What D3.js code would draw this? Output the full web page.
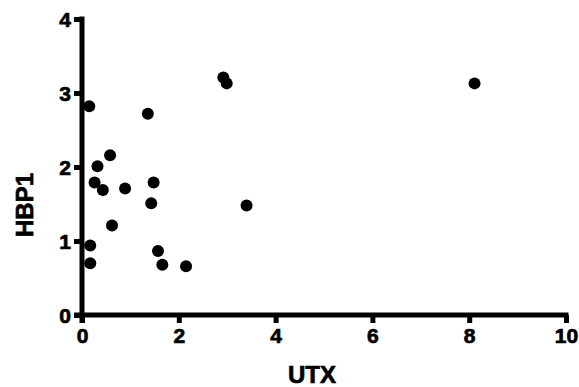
<!DOCTYPE html>
<html>
<head>
<meta charset="utf-8">
<script src="https://cdn.jsdelivr.net/npm/d3@7/dist/d3.min.js"></script>
<style>
  html, body { margin: 0; padding: 0; background: #fff; }
  svg { display: block; }
  text {
    font-family: "Liberation Sans", Arial, sans-serif; font-weight: bold;
    fill: #000; stroke: #000; stroke-width: 0.7px; paint-order: stroke;
  }
</style>
</head>
<body>
<svg id="chart" width="579" height="387"></svg>
<script>
// UTX vs HBP1 measurements
const utx  = [0.15, 1.36, 2.92, 2.99, 8.11, 0.58, 0.32, 0.26, 0.43, 0.89, 1.48, 1.43, 3.40, 0.62, 0.17, 0.17, 1.57, 1.66, 2.15];
const hbp1 = [2.82, 2.72, 3.21, 3.13, 3.13, 2.16, 2.01, 1.79, 1.69, 1.71, 1.79, 1.51, 1.48, 1.21, 0.94, 0.70, 0.865, 0.68, 0.66];
const xTicks = [0, 2, 4, 6, 8, 10];
const yTicks = [0, 1, 2, 3, 4];

const svg = d3.select("#chart");
const x = d3.scaleLinear().domain([0, 10]).range([82, 566]);
const y = d3.scaleLinear().domain([0, 4]).range([315, 19]);

const AXIS_W = 5;

function styleAxis(g) {
  g.attr("font-family", null).attr("font-size", null);
  g.select("path.domain").remove();
  g.selectAll(".tick line")
    .attr("stroke", "#000")
    .attr("stroke-width", AXIS_W);
  g.selectAll(".tick text")
    .attr("fill", "#000")
    .attr("font-size", 21);
}

// x axis
const gx = svg.append("g")
  .attr("transform", "translate(0," + y(0) + ")")
  .call(d3.axisBottom(x).tickValues(xTicks).tickFormat(d3.format("d"))
    .tickSize(8).tickPadding(5).tickSizeOuter(0))
  .call(styleAxis);
gx.append("line")
  .attr("x1", x(0) - 8).attr("x2", x(10) + AXIS_W / 2)
  .attr("stroke", "#000").attr("stroke-width", AXIS_W);

// y axis
const gy = svg.append("g")
  .attr("transform", "translate(" + x(0) + ",0)")
  .call(d3.axisLeft(y).tickValues(yTicks).tickFormat(d3.format("d"))
    .tickSize(8).tickPadding(3).tickSizeOuter(0))
  .call(styleAxis);
gy.selectAll(".tick text").attr("dy", "0.36em");
gy.append("line")
  .attr("y1", y(4) - AXIS_W / 2).attr("y2", y(0) + 8)
  .attr("stroke", "#000").attr("stroke-width", AXIS_W);

// points
svg.append("g").selectAll("circle")
  .data(utx.map((v, i) => [v, hbp1[i]]))
  .join("circle")
  .attr("cx", d => x(d[0]))
  .attr("cy", d => y(d[1]))
  .attr("r", 6)
  .attr("fill", "#000");

// axis titles
svg.append("text")
  .attr("x", 312).attr("y", 383)
  .attr("text-anchor", "middle")
  .attr("font-size", 24)
  .text("UTX");

svg.append("text")
  .attr("transform", "translate(33,205) rotate(-90)")
  .attr("text-anchor", "middle")
  .attr("font-size", 24)
  .text("HBP1");
</script>
</body>
</html>
